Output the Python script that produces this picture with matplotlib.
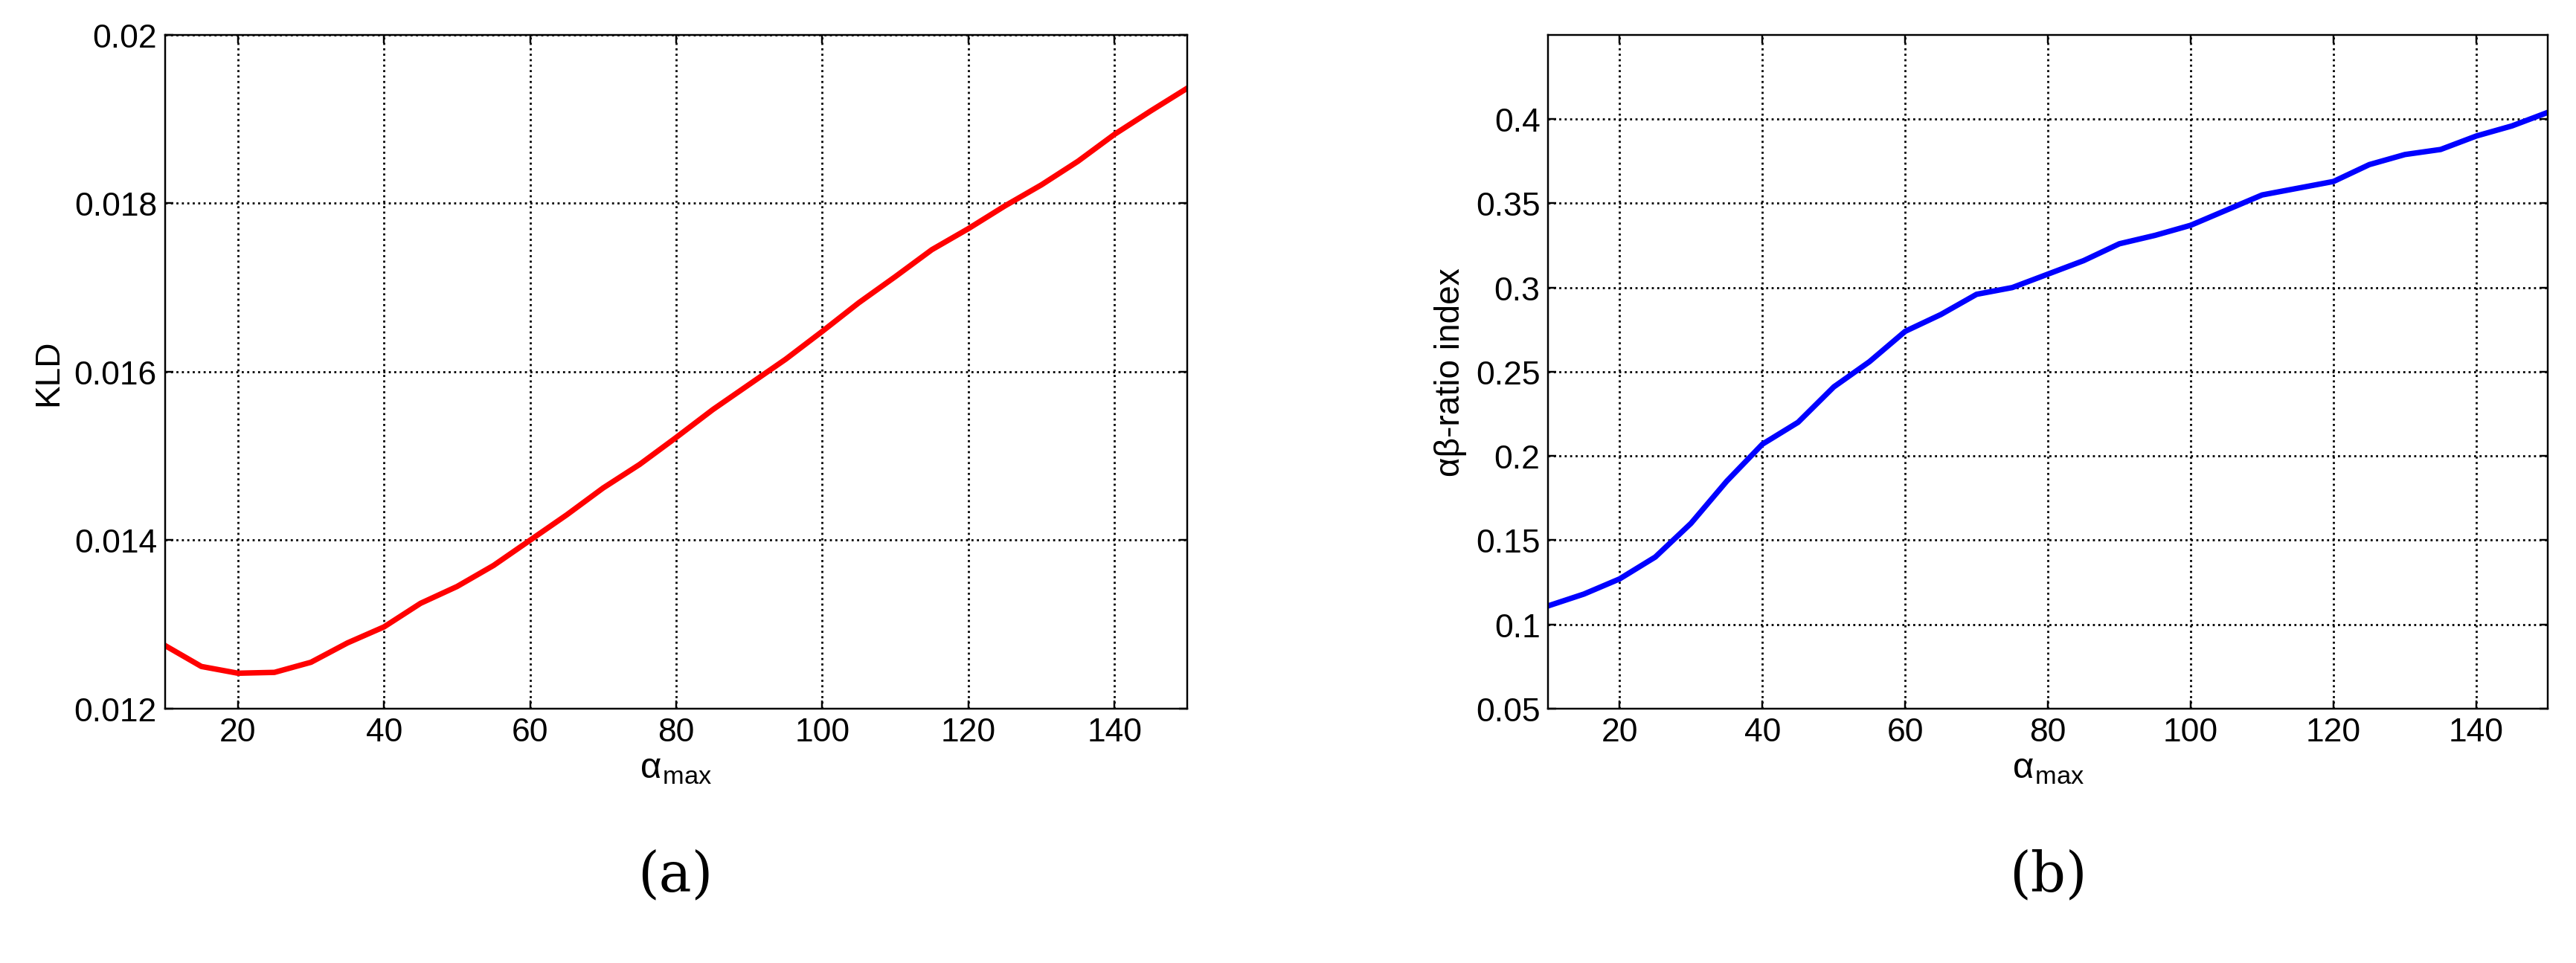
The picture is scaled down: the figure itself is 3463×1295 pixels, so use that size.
import matplotlib
matplotlib.use("Agg")
import matplotlib.pyplot as plt

alpha_max = [10, 15, 20, 25, 30, 35, 40, 45, 50, 55, 60, 65, 70, 75, 80, 85, 90,
             95, 100, 105, 110, 115, 120, 125, 130, 135, 140, 145, 150]
kld = [0.01275, 0.01250, 0.01242, 0.01243, 0.01255, 0.01278, 0.01297, 0.01325,
       0.01345, 0.01370, 0.01400, 0.01430, 0.01462, 0.01490, 0.01522, 0.01555,
       0.01585, 0.01615, 0.01648, 0.01682, 0.01713, 0.01745, 0.01770, 0.01797,
       0.01822, 0.01850, 0.01882, 0.01910, 0.01937]
ab_ratio = [0.111, 0.118, 0.127, 0.140, 0.160, 0.185, 0.207, 0.220, 0.241, 0.256,
            0.274, 0.284, 0.296, 0.300, 0.308, 0.316, 0.326, 0.331, 0.337, 0.346,
            0.355, 0.359, 0.363, 0.373, 0.379, 0.382, 0.390, 0.396, 0.404]

plt.rcParams["font.family"] = ["Liberation Sans", "DejaVu Sans"]
plt.rcParams["mathtext.fontset"] = "cm"

fig = plt.figure(figsize=(15.67, 5.864), dpi=221)
ax1 = fig.add_axes([0.064, 0.264, 0.397, 0.699])
ax2 = fig.add_axes([0.601, 0.264, 0.388, 0.699])


def style(ax):
    ax.set_xlim(10, 150)
    ax.set_xticks([20, 40, 60, 80, 100, 120, 140])
    ax.grid(True, color="black", linestyle=":", linewidth=0.9)
    ax.tick_params(direction="in", labelsize=14.5, top=True, right=True)
    for s in ax.spines.values():
        s.set_linewidth(0.8)
    ax.set_xlabel("α$_{\\mathregular{max}}$", fontsize=16, labelpad=2)


ax1.plot(alpha_max, kld, color="red", linewidth=2.4)
style(ax1)
ax1.set_ylim(0.012, 0.02)
ax1.set_yticks([0.012, 0.014, 0.016, 0.018, 0.02])
ax1.set_yticklabels(["0.012", "0.014", "0.016", "0.018", "0.02"])
ax1.set_ylabel("KLD", fontsize=15)

ax2.plot(alpha_max, ab_ratio, color="blue", linewidth=2.4)
style(ax2)
ax2.set_ylim(0.05, 0.45)
ax2.set_yticks([0.05, 0.1, 0.15, 0.2, 0.25, 0.3, 0.35, 0.4])
ax2.set_yticklabels(["0.05", "0.1", "0.15", "0.2", "0.25", "0.3", "0.35", "0.4"])
ax2.set_ylabel("αβ-ratio index", fontsize=15)

fig.text(0.262, 0.075, "(a)", fontsize=24, family="DejaVu Serif", ha="center")
fig.text(0.795, 0.075, "(b)", fontsize=24, family="DejaVu Serif", ha="center")

fig.savefig("out.png", dpi=221)
